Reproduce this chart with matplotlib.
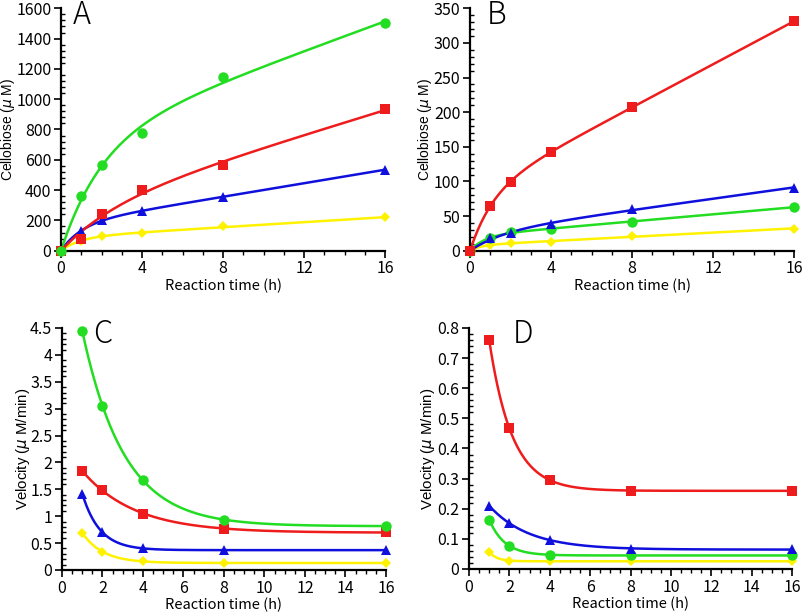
import numpy as np
import matplotlib
matplotlib.use("Agg")
import matplotlib.pyplot as plt
from matplotlib.ticker import MultipleLocator

plt.rcParams['font.family'] = ['Noto Sans CJK JP', 'DejaVu Sans']
plt.rcParams['mathtext.fontset'] = 'dejavusans'

# --- data ---
time_ab = [0, 1, 2, 4, 8, 16]
time_cd = [1, 2, 4, 8, 16]

a_green = [0, 360, 565, 775, 1145, 1505]
a_red = [0, 80, 245, 400, 568, 932]
a_blue = [0, 130, 200, 262, 355, 535]
a_yellow = [0, 65, 97, 115, 160, 220]

b_red = [0, 65, 99, 142, 208, 331]
b_blue = [0, 18, 25, 39, 60, 91]
b_green = [0, 18, 27, 31, 42, 63]
b_yellow = [0, 8, 11, 13, 21, 32]

c_green = [4.45, 3.05, 1.67, 0.93, 0.82]
c_red = [1.84, 1.48, 1.05, 0.77, 0.70]
c_blue = [1.42, 0.70, 0.40, 0.37, 0.37]
c_yellow = [0.69, 0.34, 0.16, 0.13, 0.13]

d_red = [0.76, 0.467, 0.295, 0.26, 0.26]
d_blue = [0.21, 0.152, 0.096, 0.068, 0.065]
d_green = [0.164, 0.077, 0.047, 0.045, 0.045]
d_yellow = [0.057, 0.028, 0.027, 0.025, 0.025]

GREEN = '#22dd22'
RED = '#ee1c1c'
BLUE = '#1010dd'
YELLOW = '#fff200'
styles = {
    'green': (GREEN, 'o', 7.5),
    'red': (RED, 's', 7.5),
    'blue': (BLUE, '^', 7.5),
    'yellow': (YELLOW, 'D', 5),
}
YLABEL_FAMILY = ['Liberation Sans', 'DejaVu Sans']


def fit_rise(t, y):
    """Fit y = a(1-exp(-k t)) + b t, grid search on k."""
    t = np.asarray(t, float)
    y = np.asarray(y, float)
    best = None
    for k in np.linspace(0.05, 5, 400):
        M = np.column_stack([1 - np.exp(-k * t), t])
        coef, *_ = np.linalg.lstsq(M, y, rcond=None)
        err = np.sum((M @ coef - y) ** 2)
        if best is None or err < best[0]:
            best = (err, k, coef)
    _, k, (a, b) = best
    return lambda x: a * (1 - np.exp(-k * x)) + b * x


def fit_decay(t, y):
    """Fit y = c + a exp(-k t), grid search on k."""
    t = np.asarray(t, float)
    y = np.asarray(y, float)
    best = None
    for k in np.linspace(0.05, 5, 400):
        M = np.column_stack([np.exp(-k * t), np.ones_like(t)])
        coef, *_ = np.linalg.lstsq(M, y, rcond=None)
        err = np.sum((M @ coef - y) ** 2)
        if best is None or err < best[0]:
            best = (err, k, coef)
    _, k, (a, c) = best
    return lambda x: c + a * np.exp(-k * x)


def style_axes(ax, xmajor, xminor, ymajor, yminor):
    for s in ['top', 'right']:
        ax.spines[s].set_visible(False)
    for s in ['left', 'bottom']:
        ax.spines[s].set_linewidth(1.6)
    ax.xaxis.set_major_locator(MultipleLocator(xmajor))
    ax.xaxis.set_minor_locator(MultipleLocator(xminor))
    ax.yaxis.set_major_locator(MultipleLocator(ymajor))
    ax.yaxis.set_minor_locator(MultipleLocator(yminor))
    ax.yaxis.set_major_formatter(plt.FuncFormatter(lambda v, p: f'{v:g}'))
    ax.tick_params(axis='both', which='major', direction='out', length=5, width=1.2, labelsize=11.5, pad=2)
    ax.tick_params(axis='x', which='minor', direction='out', length=3, width=1)
    ax.tick_params(axis='y', which='minor', direction='in', length=3, width=1)
    ax.set_xlabel('Reaction time (h)', fontsize=10.5, labelpad=1)


def draw_panel(ax, t, series, fitter, tmin, tmax):
    xs = np.linspace(tmin, tmax, 300)
    for name, y in series:
        color, marker, ms = styles[name]
        f = fitter(t, y)
        ax.plot(xs, f(xs), '-', color=color, linewidth=1.8, clip_on=False, zorder=2)
        ax.plot(t, y, linestyle='none', marker=marker, color=color, markersize=ms,
                markeredgewidth=0, clip_on=False, zorder=3)


fig = plt.figure(figsize=(8.05, 6.14), dpi=100)

axA = fig.add_axes([0.0758, 0.5917, 0.4025, 0.3948])
draw_panel(axA, time_ab, [('yellow', a_yellow), ('blue', a_blue), ('red', a_red), ('green', a_green)],
           fit_rise, 0, 16)
axA.set_xlim(0, 16)
axA.set_ylim(0, 1600)
style_axes(axA, 4, 1, 200, 40)
axA.set_ylabel('Cellobiose ($\\mu$ M)', fontsize=10, family=YLABEL_FAMILY)
axA.yaxis.set_label_coords(-0.136, 0.5)

axB = fig.add_axes([0.5839, 0.5917, 0.4025, 0.3948])
draw_panel(axB, time_ab, [('yellow', b_yellow), ('green', b_green), ('blue', b_blue), ('red', b_red)],
           fit_rise, 0, 16)
axB.set_xlim(0, 16)
axB.set_ylim(0, 350)
style_axes(axB, 4, 1, 50, 10)
axB.set_ylabel('Cellobiose ($\\mu$ M)', fontsize=10, family=YLABEL_FAMILY)
axB.yaxis.set_label_coords(-0.112, 0.5)

axC = fig.add_axes([0.077, 0.0717, 0.4025, 0.3941])
draw_panel(axC, time_cd, [('yellow', c_yellow), ('blue', c_blue), ('red', c_red), ('green', c_green)],
           fit_decay, 1, 16)
axC.set_xlim(0, 16)
axC.set_ylim(0, 4.5)
style_axes(axC, 2, 0.5, 0.5, 0.1)
axC.set_ylabel('Velocity ($\\mu$ M/min)', fontsize=10.8, family=YLABEL_FAMILY)
axC.yaxis.set_label_coords(-0.093, 0.5)

axD = fig.add_axes([0.5826, 0.0733, 0.4013, 0.3925])
draw_panel(axD, time_cd, [('yellow', d_yellow), ('green', d_green), ('blue', d_blue), ('red', d_red)],
           fit_decay, 1, 16)
axD.set_xlim(0, 16)
axD.set_ylim(0, 0.8)
style_axes(axD, 2, 0.5, 0.1, 0.02)
axD.set_ylabel('Velocity ($\\mu$ M/min)', fontsize=10.8, family=YLABEL_FAMILY)
axD.yaxis.set_label_coords(-0.099, 0.5)

# panel letters
for letter, x, y in [('A', 0.0907, 0.961), ('B', 0.605, 0.961), ('C', 0.1155, 0.4414), ('D', 0.637, 0.4414)]:
    fig.text(x, y, letter, fontsize=22, fontweight='light', va='baseline', ha='left')

fig.savefig('out.png', dpi=100)
